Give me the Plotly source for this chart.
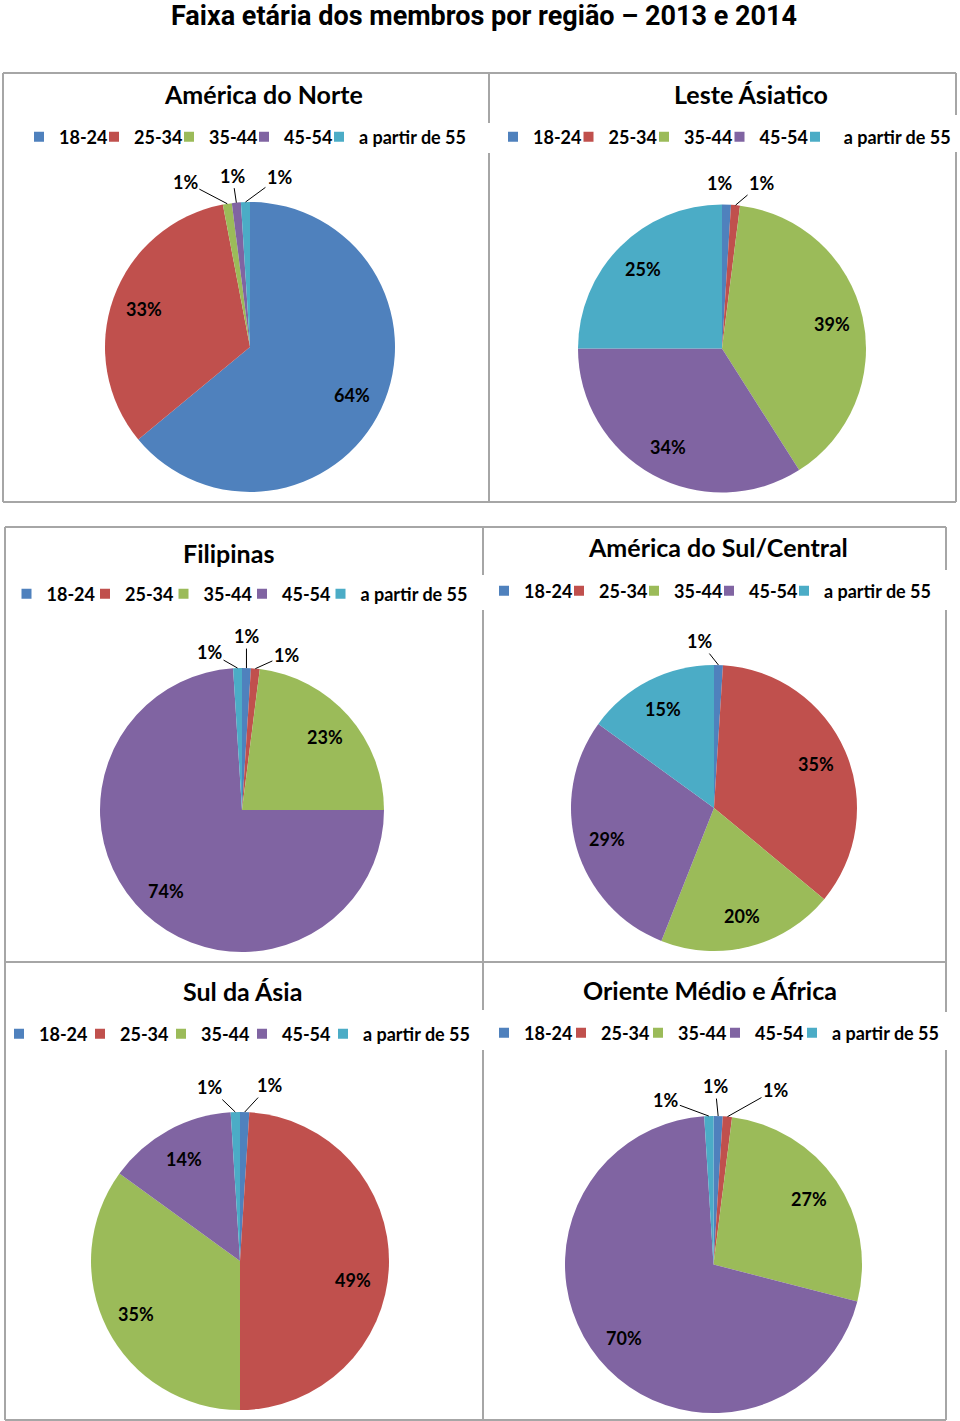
import math
import plotly.graph_objects as go

# ---------------- data ----------------
age_groups = ["18-24", "25-34", "35-44", "45-54", "a partir de 55"]
region_names = ["América do Norte", "Leste Ásiatico", "Filipinas",
                "América do Sul/Central", "Sul da Ásia", "Oriente Médio e África"]
america_norte = [64, 33, 1, 1, 1]
leste_asiatico = [1, 1, 39, 34, 25]
filipinas = [1, 1, 23, 74, 1]
america_sul_central = [1, 35, 20, 29, 15]
sul_asia = [1, 49, 35, 14, 1]
oriente_medio_africa = [1, 1, 27, 70, 1]
main_title = "Faixa etária dos membros por região – 2013 e 2014"

series = [america_norte, leste_asiatico, filipinas,
          america_sul_central, sul_asia, oriente_medio_africa]

# ---------------- style / layout ----------------
colors = ["#4F81BD", "#C0504D", "#9BBB59", "#8064A2", "#4BACC6"]
W, H = 960, 1421
FONT = "Lato, 'Open Sans', sans-serif"

# per panel: pie centre (px), radius, title position, legend position,
# legend entry width, extra spaces before last legend label,
# outside-label offsets {slice index: (dx, dy, draw_line)}, inside-label nudges
panels = [
    dict(c=(250, 347), r=145, title=(263, 94), legend=(19, 137), ew=30, pre=0,
         out={2: (-42, -22, True), 3: (-4, -27, True), 4: (34, -25, True)}, nudge={}),
    dict(c=(722, 348.5), r=144, title=(751, 94), legend=(493, 137), ew=30.5, pre=2,
         out={0: (-7, -22, False), 1: (26, -22, True)}, nudge={}),
    dict(c=(242, 810), r=142, title=(228, 553), legend=(6.5, 594), ew=33.5, pre=0,
         out={0: (0, -32, True), 1: (31, -14, True), 4: (-28, -16, True)}, nudge={}),
    dict(c=(714, 808), r=143, title=(718, 547), legend=(484, 591), ew=30, pre=0,
         out={0: (-19, -24, True)}, nudge={}),
    dict(c=(240, 1261), r=149, title=(242, 991), legend=(-1, 1034), ew=36, pre=0,
         out={0: (25, -27, True), 4: (-26, -25, True)}, nudge={1: (-3, 15)}),
    dict(c=(713.5, 1264.5), r=148.5, title=(710, 990), legend=(484, 1033), ew=32, pre=0,
         out={0: (-3, -30, True), 1: (48, -27, True), 4: (-43, -16, True)}, nudge={}),
]


def px(x):
    return x / W


def py(y):
    return 1 - y / H


fig = go.Figure()
annotations = []
legends = {}

for i, (name, vals, p) in enumerate(zip(region_names, series, panels)):
    cx, cy = p["c"]
    R = p["r"]
    lid = "legend" if i == 0 else f"legend{i + 1}"
    fig.add_trace(go.Pie(
        labels=age_groups, values=vals, sort=False, direction="clockwise",
        rotation=0, textinfo="none", hoverinfo="label+percent",
        marker=dict(colors=colors, line=dict(width=0)),
        domain=dict(x=[px(cx - R), px(cx + R)], y=[py(cy + R), py(cy - R)]),
        showlegend=False,
    ))
    # legend entries (one per age group) for this panel's own legend
    for k, (lab, col) in enumerate(zip(age_groups, colors)):
        last = k == len(age_groups) - 1
        fig.add_trace(go.Scatter(
            x=[None], y=[None], mode="markers",
            name=("\u00a0" * p["pre"] + lab) if last else lab,
            marker=dict(symbol="square", size=10, color=col, line=dict(width=0)),
            legend=lid, legendwidth=0 if last else p["ew"], showlegend=True,
            hoverinfo="skip",
        ))
    legends[lid] = dict(
        orientation="h", x=px(p["legend"][0]), y=py(p["legend"][1]),
        xanchor="left", yanchor="middle", bgcolor="rgba(0,0,0,0)",
        font=dict(family=FONT, size=18, color="#000000", weight="bold"),
        traceorder="normal", itemclick=False, itemdoubleclick=False,
    )
    # panel title
    annotations.append(dict(
        x=px(p["title"][0]), y=py(p["title"][1]), xref="paper", yref="paper",
        text=name, showarrow=False, xanchor="center", yanchor="middle",
        font=dict(family=FONT, size=25, color="#000000", weight="bold")))

    total = sum(vals)
    cum = 0
    for j, v in enumerate(vals):
        a0 = 360 * cum / total
        cum += v
        a1 = 360 * cum / total
        mid = math.radians((a0 + a1) / 2)
        label = f"{round(100 * v / total)}%"
        if j in p["out"]:
            dx, dy, line = p["out"][j]
            ex = cx + R * math.sin(mid)
            ey = cy - R * math.cos(mid)
            annotations.append(dict(
                x=px(ex), y=py(ey), xref="paper", yref="paper", text=label,
                showarrow=True, arrowhead=0, arrowwidth=1,
                arrowcolor="#000000" if line else "rgba(0,0,0,0)",
                ax=dx, ay=dy, standoff=0,
                font=dict(family=FONT, size=18, color="#000000", weight="bold")))
        else:
            nx, ny = p["nudge"].get(j, (0, 0))
            lx = cx + 0.78 * R * math.sin(mid) + nx
            ly = cy - 0.78 * R * math.cos(mid) + ny
            annotations.append(dict(
                x=px(lx), y=py(ly), xref="paper", yref="paper", text=label,
                showarrow=False, xanchor="center", yanchor="middle",
                font=dict(family=FONT, size=18, color="#000000", weight="bold")))

# main title
annotations.append(dict(
    x=px(484), y=py(16), xref="paper", yref="paper", text=main_title,
    showarrow=False, xanchor="center", yanchor="middle",
    font=dict(family="Roboto, 'Liberation Sans', sans-serif",
              size=27, color="#000000", weight="bold")))

# panel borders (with gaps where the legends sit)
segs = [
    ((3, 73), (956, 73)), ((3, 502), (956, 502)),
    ((3, 73), (3, 502)),
    ((489, 73), (489, 123)), ((489, 153), (489, 502)),
    ((956, 73), (956, 115)), ((956, 152), (956, 502)),
    ((5, 527), (946, 527)), ((5, 962), (946, 962)), ((5, 1420), (946, 1420)),
    ((5, 527), (5, 1420)),
    ((483, 527), (483, 575)), ((483, 610), (483, 1010)), ((483, 1050), (483, 1420)),
    ((946, 527), (946, 570)), ((946, 610), (946, 1012)), ((946, 1050), (946, 1420)),
]
shapes = [dict(type="line", xref="paper", yref="paper",
               x0=px(a[0]), y0=py(a[1]), x1=px(b[0]), y1=py(b[1]),
               line=dict(color="#A6A6A6", width=2), layer="above")
          for a, b in segs]

fig.update_layout(
    width=W, height=H,
    margin=dict(l=0, r=0, t=0, b=0, pad=0, autoexpand=False),
    paper_bgcolor="#FFFFFF", plot_bgcolor="rgba(0,0,0,0)",
    xaxis=dict(visible=False), yaxis=dict(visible=False),
    annotations=annotations, shapes=shapes, **legends,
)

fig.write_html("out.html", config={"displayModeBar": False},
               post_script="document.body.style.margin='0';")
